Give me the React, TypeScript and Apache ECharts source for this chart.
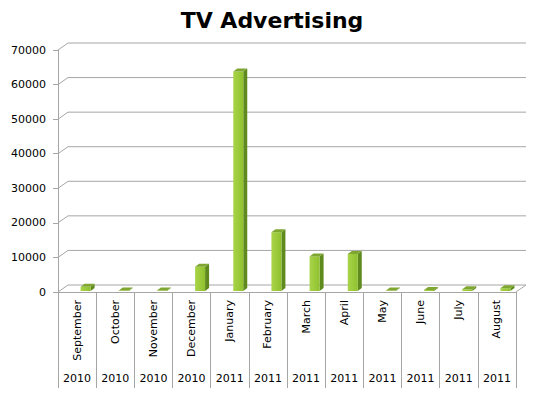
import React, { useEffect, useRef } from "react";
import * as echarts from "echarts";

const months = ["September", "October", "November", "December", "January", "February", "March", "April", "May", "June", "July", "August"];
const years = ["2010", "2010", "2010", "2010", "2011", "2011", "2011", "2011", "2011", "2011", "2011", "2011"];
const spending = [1200, 100, 100, 7000, 63500, 17000, 10000, 10700, 100, 300, 500, 800];
const yTicks = [0, 10000, 20000, 30000, 40000, 50000, 60000, 70000];

const DX = 10;
const DY = -7;
const GRAY = "#a6a6a6";

export default function App() {
  const ref = useRef<HTMLDivElement>(null);
  useEffect(() => {
    const chart = echarts.init(ref.current!, null, { renderer: "svg" });
    chart.setOption({
      animation: false,
      backgroundColor: "#ffffff",
      title: {
        text: "TV Advertising",
        left: "center",
        top: 4,
        textStyle: { fontFamily: "DejaVu Sans", fontWeight: "bold", fontSize: 22, color: "#000" },
      },
      grid: { left: 58, right: 28, top: 50, bottom: 103 },
      xAxis: [
        {
          type: "category",
          data: months,
          position: "bottom",
          axisLine: { show: true, lineStyle: { color: GRAY } },
          axisTick: { show: true, interval: 0, length: 96, lineStyle: { color: GRAY } },
          axisLabel: { interval: 0, rotate: 90, margin: 8, fontFamily: "DejaVu Sans", fontSize: 11, color: "#000" },
          splitLine: { show: false },
        },
        {
          type: "category",
          data: years,
          position: "bottom",
          axisLine: { show: false },
          axisTick: { show: false },
          axisLabel: { interval: 0, margin: 81, fontFamily: "DejaVu Sans", fontSize: 11, color: "#000" },
          splitLine: { show: false },
        },
      ],
      yAxis: {
        type: "value",
        min: 0,
        max: 70000,
        interval: 10000,
        axisLine: { show: true, lineStyle: { color: GRAY } },
        axisTick: { show: true, length: 5, lineStyle: { color: GRAY } },
        axisLabel: {
          margin: 12,
          fontFamily: "DejaVu Sans",
          fontSize: 11,
          color: "#000",
          formatter: (v: number) => String(v),
        },
        splitLine: { show: false },
      },
      series: [
        {
          type: "custom",
          z: 1,
          silent: true,
          data: yTicks.map((v) => [0, v]),
          renderItem: (params: any, api: any) => {
            const cs = params.coordSys;
            const y = api.coord([0, api.value(1)])[1];
            const left = cs.x;
            const right = cs.x + cs.width;
            const children: any[] = [
              {
                type: "polyline",
                shape: { points: [[left, y], [left + DX, y + DY], [right + DX, y + DY]] },
                style: { stroke: GRAY, lineWidth: 1, fill: null },
              },
            ];
            if (api.value(1) === 0) {
              children.push({
                type: "line",
                shape: { x1: right, y1: y, x2: right + DX, y2: y + DY },
                style: { stroke: GRAY, lineWidth: 1 },
              });
            }
            return { type: "group", children };
          },
        },
        {
          type: "custom",
          z: 5,
          data: spending.map((v, i) => [i, v]),
          renderItem: (params: any, api: any) => {
            const base = api.coord([api.value(0), 0]);
            const top = api.coord([api.value(0), api.value(1)]);
            const c = base[0];
            const x0 = c + 3.5;
            const x1 = c + 13.5;
            const yb = base[1] - 1;
            let yt = top[1] - 1;
            if (yt > yb - 0.5) yt = yb - 0.5;
            const sx = 4;
            const sy = -3;
            return {
              type: "group",
              children: [
                {
                  type: "polygon",
                  shape: { points: [[x1, yt], [x1 + sx, yt + sy], [x1 + sx, yb + sy], [x1, yb]] },
                  style: { fill: "#5f8a1d" },
                },
                {
                  type: "polygon",
                  shape: { points: [[x0, yt], [x1, yt], [x1, yb], [x0, yb]] },
                  style: {
                    fill: new echarts.graphic.LinearGradient(0, 0, 1, 0, [
                      { offset: 0, color: "#a9d449" },
                      { offset: 1, color: "#8fc12e" },
                    ]),
                  },
                },
                {
                  type: "polygon",
                  shape: { points: [[x0, yt], [x0 + sx, yt + sy], [x1 + sx, yt + sy], [x1, yt]] },
                  style: { fill: "#7ea631" },
                },
              ],
            };
          },
        },
      ],
    });
    return () => chart.dispose();
  }, []);
  return <div ref={ref} style={{ position: "fixed", left: 0, top: 0, width: 544, height: 395 }} />;
}
